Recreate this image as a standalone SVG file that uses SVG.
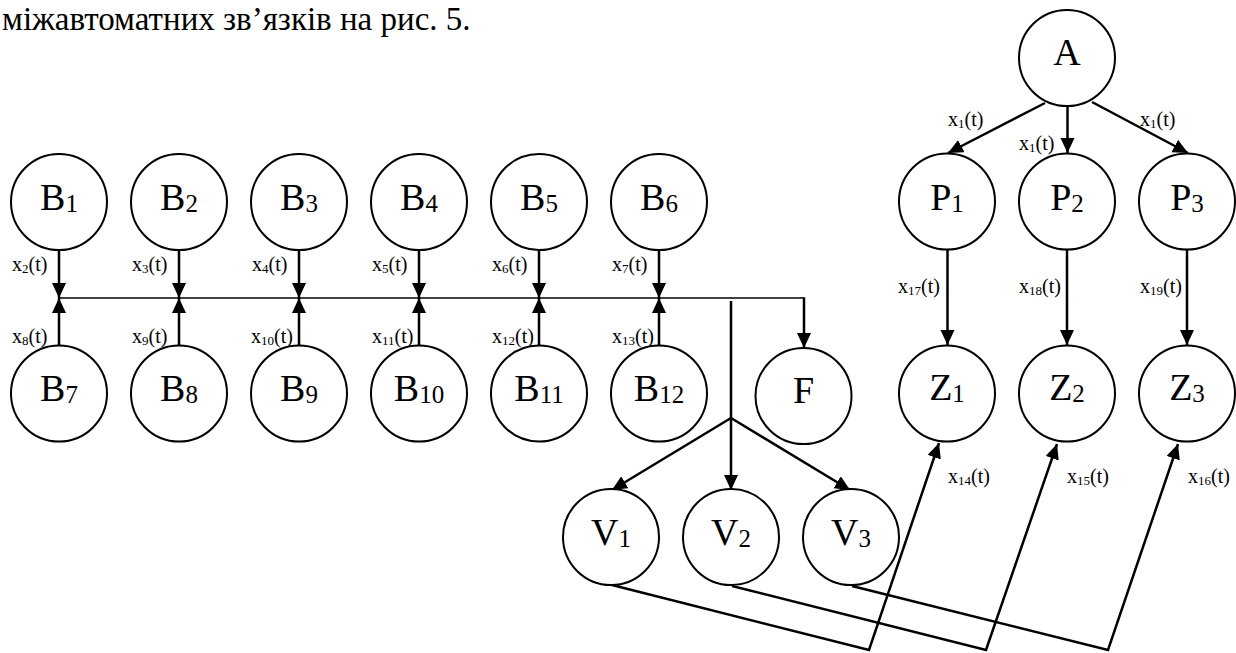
<svg xmlns="http://www.w3.org/2000/svg" width="1236" height="653" viewBox="0 0 1236 653">
<style>
.n{fill:#fff;stroke:#000;stroke-width:2}
.t{font-family:"Liberation Serif","Times New Roman",serif;font-size:38px;fill:#000;text-anchor:middle}
.s{font-size:25px}
.l{font-family:"Liberation Serif","Times New Roman",serif;font-size:20px;fill:#000}
.ls{font-size:13px}
.a{stroke:#000;stroke-width:2.5;fill:none;marker-end:url(#ah)}
.b{stroke:#000;stroke-width:1.6;fill:none}
.h{font-family:"Liberation Serif","Times New Roman",serif;font-size:33px;fill:#000}
</style>
<defs>
<marker id="ah" markerUnits="userSpaceOnUse" markerWidth="16" markerHeight="15" refX="15" refY="7" orient="auto">
<path d="M0,0 L15,7 L0,14 z" fill="#000"/>
</marker>
</defs>
<text class="h" x="2" y="30">міжавтоматних зв’язків на рис. 5.</text>
<g id="connectors">
<line class="b" x1="59" y1="298" x2="804" y2="298"/>
<line class="a" x1="59" y1="250" x2="59" y2="298"/>
<line class="a" x1="179" y1="250" x2="179" y2="298"/>
<line class="a" x1="299" y1="250" x2="299" y2="298"/>
<line class="a" x1="419" y1="250" x2="419" y2="298"/>
<line class="a" x1="539" y1="250" x2="539" y2="298"/>
<line class="a" x1="659" y1="250" x2="659" y2="298"/>
<line class="a" x1="59" y1="345" x2="59" y2="298"/>
<line class="a" x1="179" y1="345" x2="179" y2="298"/>
<line class="a" x1="299" y1="345" x2="299" y2="298"/>
<line class="a" x1="419" y1="345" x2="419" y2="298"/>
<line class="a" x1="539" y1="345" x2="539" y2="298"/>
<line class="a" x1="659" y1="345" x2="659" y2="298"/>
<line class="a" x1="804" y1="297.2" x2="804" y2="348"/>
<line class="a" x1="731" y1="301" x2="731" y2="490"/>
<line class="a" x1="731" y1="418" x2="612" y2="490"/>
<line class="a" x1="731" y1="418" x2="850" y2="490"/>
<line class="a" x1="1045" y1="103" x2="948" y2="153"/>
<line class="a" x1="1067.5" y1="106" x2="1067.5" y2="153"/>
<line class="a" x1="1092" y1="102" x2="1188" y2="153"/>
<line class="a" x1="947.5" y1="250" x2="947.5" y2="345"/>
<line class="a" x1="1067" y1="250" x2="1067" y2="345"/>
<line class="a" x1="1187" y1="250" x2="1187" y2="345"/>
<polyline class="a" points="612,585 869,650 939,443"/>
<polyline class="a" points="732,586 986,650 1057,444"/>
<polyline class="a" points="852,586 1108,650 1178,444"/>
<text class="l" x="12" y="271">x<tspan class="ls" dy="2">2</tspan><tspan dy="-2">(t)</tspan></text>
<text class="l" x="132" y="271">x<tspan class="ls" dy="2">3</tspan><tspan dy="-2">(t)</tspan></text>
<text class="l" x="252" y="271">x<tspan class="ls" dy="2">4</tspan><tspan dy="-2">(t)</tspan></text>
<text class="l" x="372" y="271">x<tspan class="ls" dy="2">5</tspan><tspan dy="-2">(t)</tspan></text>
<text class="l" x="492" y="271">x<tspan class="ls" dy="2">6</tspan><tspan dy="-2">(t)</tspan></text>
<text class="l" x="612" y="271">x<tspan class="ls" dy="2">7</tspan><tspan dy="-2">(t)</tspan></text>
<text class="l" x="12" y="343">x<tspan class="ls" dy="2">8</tspan><tspan dy="-2">(t)</tspan></text>
<text class="l" x="132" y="343">x<tspan class="ls" dy="2">9</tspan><tspan dy="-2">(t)</tspan></text>
<text class="l" x="251" y="343">x<tspan class="ls" dy="2">10</tspan><tspan dy="-2">(t)</tspan></text>
<text class="l" x="372" y="343">x<tspan class="ls" dy="2">11</tspan><tspan dy="-2">(t)</tspan></text>
<text class="l" x="492" y="343">x<tspan class="ls" dy="2">12</tspan><tspan dy="-2">(t)</tspan></text>
<text class="l" x="612" y="343">x<tspan class="ls" dy="2">13</tspan><tspan dy="-2">(t)</tspan></text>
<text class="l" x="948" y="126">x<tspan class="ls" dy="2">1</tspan><tspan dy="-2">(t)</tspan></text>
<text class="l" x="1019" y="150">x<tspan class="ls" dy="2">1</tspan><tspan dy="-2">(t)</tspan></text>
<text class="l" x="1140" y="126">x<tspan class="ls" dy="2">1</tspan><tspan dy="-2">(t)</tspan></text>
<text class="l" x="898" y="293">x<tspan class="ls" dy="2">17</tspan><tspan dy="-2">(t)</tspan></text>
<text class="l" x="1019" y="293">x<tspan class="ls" dy="2">18</tspan><tspan dy="-2">(t)</tspan></text>
<text class="l" x="1140" y="293">x<tspan class="ls" dy="2">19</tspan><tspan dy="-2">(t)</tspan></text>
<text class="l" x="948" y="483">x<tspan class="ls" dy="2">14</tspan><tspan dy="-2">(t)</tspan></text>
<text class="l" x="1067" y="483">x<tspan class="ls" dy="2">15</tspan><tspan dy="-2">(t)</tspan></text>
<text class="l" x="1188" y="483">x<tspan class="ls" dy="2">16</tspan><tspan dy="-2">(t)</tspan></text>
</g>
<g id="A"><circle class="n" cx="1067" cy="58" r="48"/><text class="t" x="1067" y="65">A</text></g>
<g id="B1"><circle class="n" cx="59" cy="202" r="48"/><text class="t" x="59" y="210">B<tspan class="s" dy="2">1</tspan></text></g>
<g id="B2"><circle class="n" cx="179" cy="202" r="48"/><text class="t" x="179" y="210">B<tspan class="s" dy="2">2</tspan></text></g>
<g id="B3"><circle class="n" cx="299" cy="202" r="48"/><text class="t" x="299" y="210">B<tspan class="s" dy="2">3</tspan></text></g>
<g id="B4"><circle class="n" cx="419" cy="202" r="48"/><text class="t" x="419" y="210">B<tspan class="s" dy="2">4</tspan></text></g>
<g id="B5"><circle class="n" cx="539" cy="202" r="48"/><text class="t" x="539" y="210">B<tspan class="s" dy="2">5</tspan></text></g>
<g id="B6"><circle class="n" cx="659" cy="202" r="48"/><text class="t" x="659" y="210">B<tspan class="s" dy="2">6</tspan></text></g>
<g id="B7"><circle class="n" cx="59" cy="393.5" r="48"/><text class="t" x="59" y="401">B<tspan class="s" dy="2">7</tspan></text></g>
<g id="B8"><circle class="n" cx="179" cy="393.5" r="48"/><text class="t" x="179" y="401">B<tspan class="s" dy="2">8</tspan></text></g>
<g id="B9"><circle class="n" cx="299" cy="393.5" r="48"/><text class="t" x="299" y="401">B<tspan class="s" dy="2">9</tspan></text></g>
<g id="B10"><circle class="n" cx="419" cy="393.5" r="48"/><text class="t" x="419" y="401">B<tspan class="s" dy="2">10</tspan></text></g>
<g id="B11"><circle class="n" cx="539" cy="393.5" r="48"/><text class="t" x="539" y="401">B<tspan class="s" dy="2">11</tspan></text></g>
<g id="B12"><circle class="n" cx="659" cy="393.5" r="48"/><text class="t" x="659" y="401">B<tspan class="s" dy="2">12</tspan></text></g>
<g id="F"><circle class="n" cx="803.5" cy="396" r="48"/><text class="t" x="803.5" y="403">F</text></g>
<g id="P1"><circle class="n" cx="947" cy="201.5" r="48"/><text class="t" x="947" y="210">P<tspan class="s" dy="2">1</tspan></text></g>
<g id="P2"><circle class="n" cx="1067" cy="201.5" r="48"/><text class="t" x="1067" y="210">P<tspan class="s" dy="2">2</tspan></text></g>
<g id="P3"><circle class="n" cx="1187" cy="201.5" r="48"/><text class="t" x="1187" y="210">P<tspan class="s" dy="2">3</tspan></text></g>
<g id="Z1"><circle class="n" cx="947" cy="393.5" r="48"/><text class="t" x="947" y="400">Z<tspan class="s" dy="2">1</tspan></text></g>
<g id="Z2"><circle class="n" cx="1067" cy="393.5" r="48"/><text class="t" x="1067" y="400">Z<tspan class="s" dy="2">2</tspan></text></g>
<g id="Z3"><circle class="n" cx="1187" cy="393.5" r="48"/><text class="t" x="1187" y="400">Z<tspan class="s" dy="2">3</tspan></text></g>
<g id="V1"><circle class="n" cx="611" cy="537" r="48"/><text class="t" x="611" y="545">V<tspan class="s" dy="2">1</tspan></text></g>
<g id="V2"><circle class="n" cx="731" cy="537" r="48"/><text class="t" x="731" y="545">V<tspan class="s" dy="2">2</tspan></text></g>
<g id="V3"><circle class="n" cx="851" cy="537" r="48"/><text class="t" x="851" y="545">V<tspan class="s" dy="2">3</tspan></text></g>
</svg>
